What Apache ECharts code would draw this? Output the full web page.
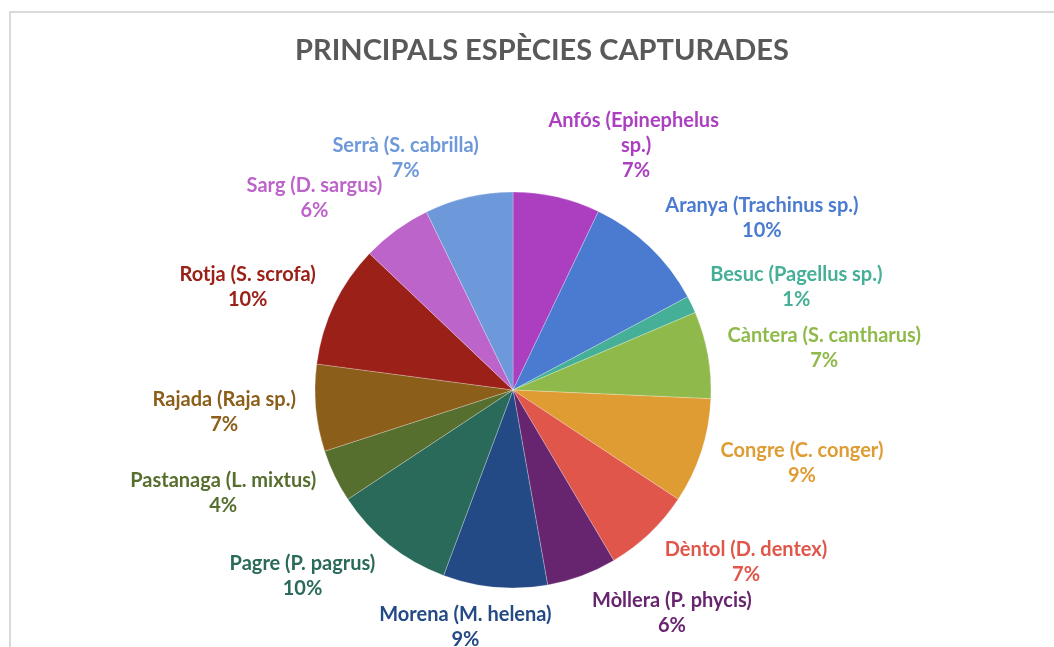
<!DOCTYPE html>
<html>
<head>
<meta charset="utf-8">
<script src="https://cdn.jsdelivr.net/npm/echarts@6/dist/echarts.min.js"></script>
<style>
  html, body { margin: 0; padding: 0; background: #fff; }
  .frame {
    position: absolute; left: 9px; top: 11px; width: 1200px; height: 800px;
    border: 2px solid #d9d9d9; box-sizing: border-box;
  }
  #chart { position: absolute; left: 0; top: 0; width: 1054px; height: 647px; }
</style>
</head>
<body>
<div class="frame"></div>
<div id="chart"></div>
<script>
// species (clockwise from the top)
const categories = [
  'Anfós (Epinephelus sp.)', 'Aranya (Trachinus sp.)', 'Besuc (Pagellus sp.)',
  'Càntera (S. cantharus)', 'Congre (C. conger)', 'Dèntol (D. dentex)',
  'Mòllera (P. phycis)', 'Morena (M. helena)', 'Pagre (P. pagrus)',
  'Pastanaga (L. mixtus)', 'Rajada (Raja sp.)', 'Rotja (S. scrofa)',
  'Sarg (D. sargus)', 'Serrà (S. cabrilla)'
]
// share of catches, %
const values = [7.1, 10.1, 1.4, 7.1, 8.6, 7.2, 5.7, 8.5, 10.0, 4.3, 7.1, 10.0, 5.7, 7.2]
const colors = [
  '#ab3fc0', '#4a7bd0', '#45b097', '#8fba4b', '#de9c33', '#e0564a', '#68256f',
  '#244a85', '#2a6a5a', '#566e2e', '#8b5e1a', '#9a2018', '#bd64cb', '#6d98da'
]

const CX = 513, CY = 390, R = 198, GAP = 15
const FONT = 'Lato, "Open Sans", sans-serif'

const total = values.reduce((a, b) => a + b, 0)
const midAngles = []
let acc = 0
values.forEach(v => { midAngles.push((acc + v / 2) / total * 2 * Math.PI); acc += v })

const chart = echarts.init(document.getElementById('chart'))

chart.setOption({
  backgroundColor: 'transparent',
  title: {
    text: 'PRINCIPALS ESPÈCIES CAPTURADES',
    left: 537,
    textAlign: 'center',
    top: 31,
    textStyle: { color: '#595959', fontSize: 29, fontWeight: 'bold', fontFamily: FONT }
  },
  series: [{
    type: 'pie',
    center: [CX, CY],
    radius: R,
    startAngle: 90,
    clockwise: true,
    avoidLabelOverlap: false,
    percentPrecision: 0,
    data: categories.map((name, i) => ({
      name: name,
      value: values[i],
      itemStyle: { color: colors[i] },
      label: i === 0
        ? { color: colors[i], width: 192, overflow: 'break' }
        : { color: colors[i] }
    })),
    itemStyle: { borderColor: 'rgba(255,255,255,0.5)', borderWidth: 0.5 },
    label: {
      show: true,
      position: 'outside',
      formatter: '{b}\n{d}%',
      fontFamily: FONT,
      fontSize: 20,
      fontWeight: 'bold',
      lineHeight: 25
    },
    labelLine: { show: false },
    emphasis: { disabled: true },
    labelLayout: function (p) {
      const a = midAngles[p.dataIndex]
      const s = Math.sin(a), c = Math.cos(a)
      const w = p.labelRect.width, h = p.labelRect.height
      const px = CX + (R + GAP) * s
      const py = CY - (R + GAP) * c
      const k = Math.min(1, Math.abs(s) * 3.4)
      return {
        x: px + Math.sign(s) * k * (w / 2 + 5),
        y: py - c * h / 2,
        align: 'center',
        verticalAlign: 'middle'
      }
    }
  }]
})
</script>
</body>
</html>
